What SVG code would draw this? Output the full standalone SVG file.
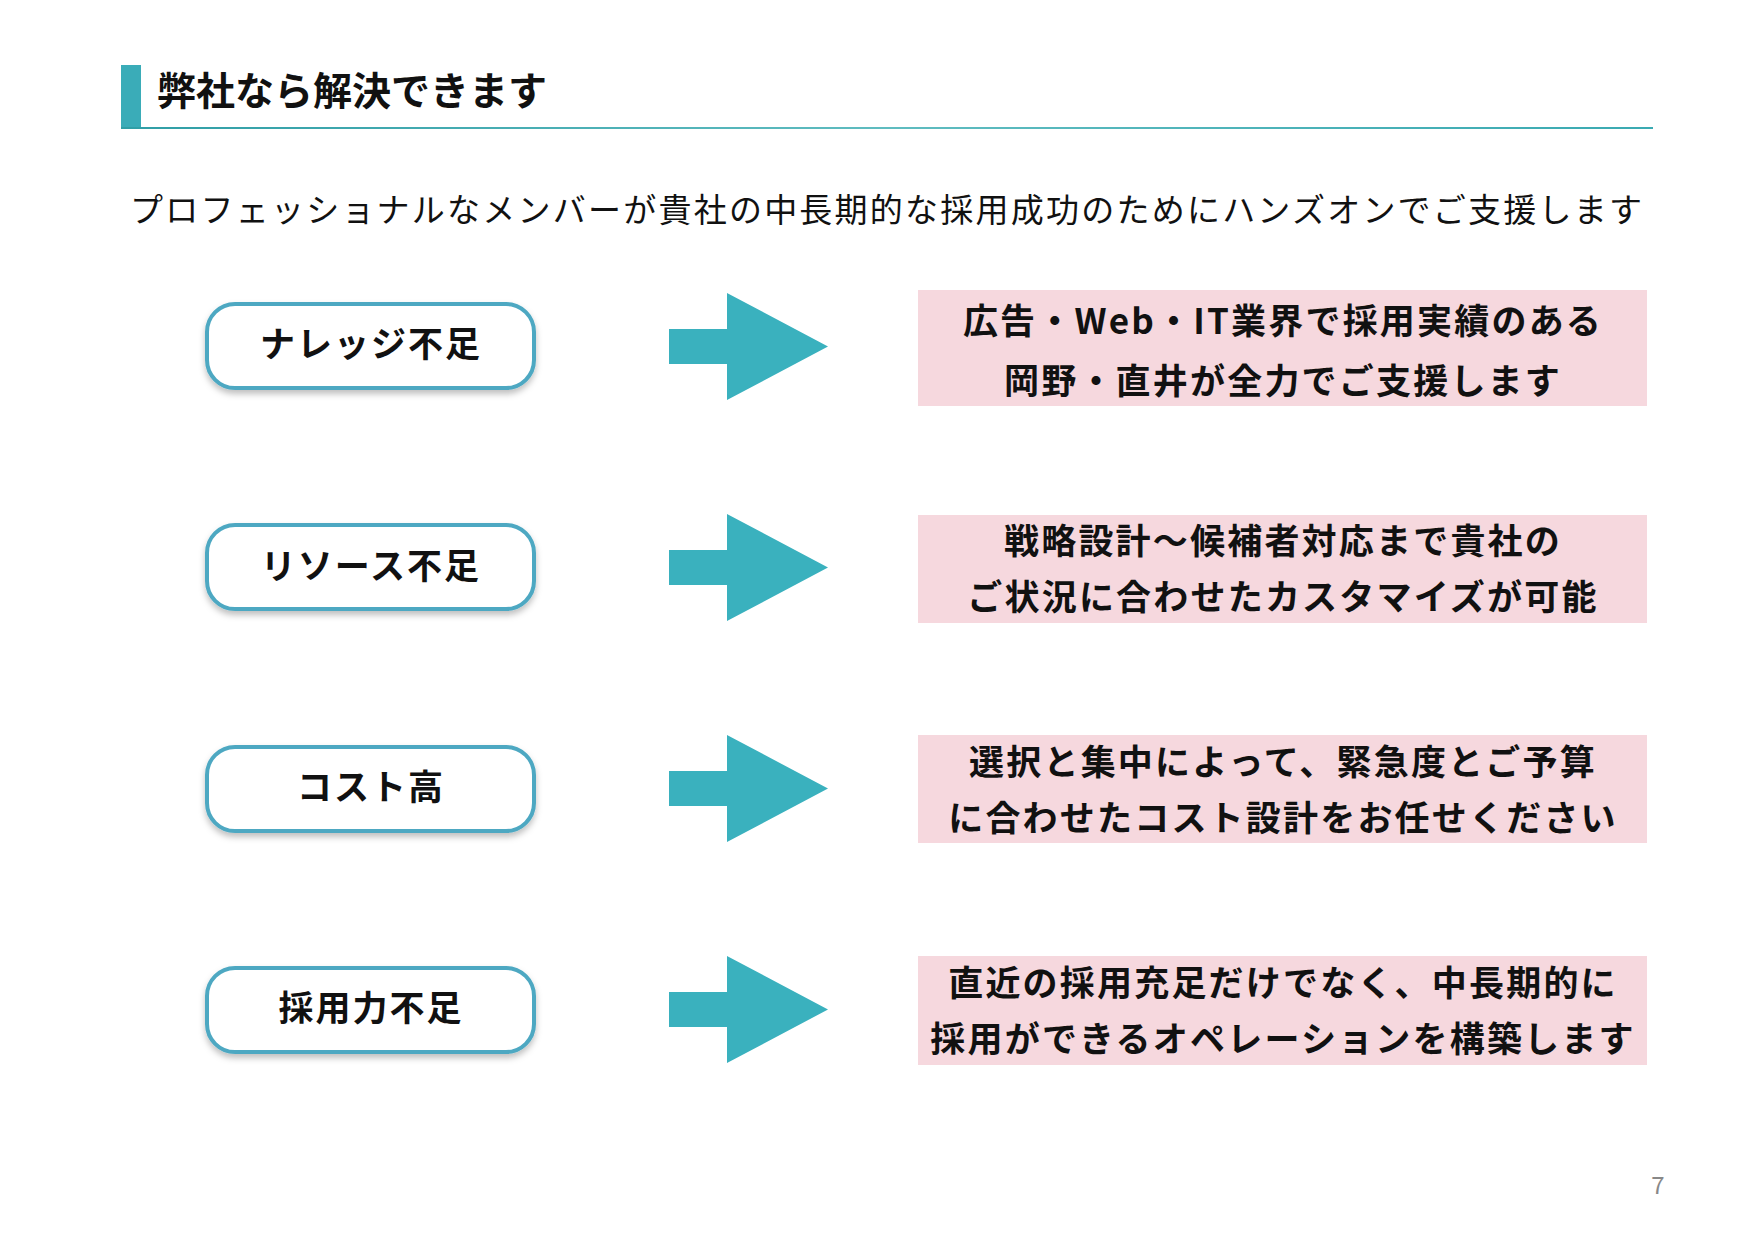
<svg xmlns="http://www.w3.org/2000/svg" width="1754" height="1240" viewBox="0 0 1754 1240">
  <defs>
    <filter id="sh" x="-10%" y="-20%" width="120%" height="150%">
      <feDropShadow dx="0" dy="4" stdDeviation="3" flood-color="#000" flood-opacity="0.25"/>
    </filter>
    <linearGradient id="ul" x1="0" x2="1" y1="0" y2="0">
      <stop offset="0" stop-color="#2f9ea6"/>
      <stop offset="0.5" stop-color="#5fbcc0"/>
      <stop offset="1" stop-color="#3aaab2"/>
    </linearGradient>
    <style>
      .jp{font-family:"Noto Sans CJK JP","Noto Sans",sans-serif;}
      .b{font-weight:700;fill:#111;}
      .lbl{font-size:35px;letter-spacing:2px;text-anchor:middle;}
      .box{fill:#fff;stroke:#4ea8c2;stroke-width:4;}
      .pink{fill:#f6d8de;}
      .arr{fill:#3ab1be;}
      .sol{font-size:35px;letter-spacing:2.2px;text-anchor:middle;}
    </style>
  </defs>
  <rect width="1754" height="1240" fill="#fff"/>

  <g id="header">
    <rect x="121" y="65" width="20" height="63" fill="#3aacb8"/>
    <rect x="121" y="127" width="1532" height="2" fill="url(#ul)"/>
    <text class="jp b" x="157" y="105" font-size="39">弊社なら解決できます</text>
    <text class="jp" x="130" y="222" font-size="33" fill="#111" textLength="1512" lengthAdjust="spacing">プロフェッショナルなメンバーが貴社の中長期的な採用成功のためにハンズオンでご支援します</text>
  </g>

  <g id="problem1"><rect class="box" x="207" y="304" width="327" height="84" rx="28" filter="url(#sh)"/><text class="jp b lbl" x="371" y="357">ナレッジ不足</text></g>
  <g id="problem2"><rect class="box" x="207" y="525" width="327" height="84" rx="28" filter="url(#sh)"/><text class="jp b lbl" x="371" y="579">リソース不足</text></g>
  <g id="problem3"><rect class="box" x="207" y="747" width="327" height="84" rx="28" filter="url(#sh)"/><text class="jp b lbl" x="371" y="800">コスト高</text></g>
  <g id="problem4"><rect class="box" x="207" y="968" width="327" height="84" rx="28" filter="url(#sh)"/><text class="jp b lbl" x="371" y="1021">採用力不足</text></g>

  <g id="connectors">
    <polygon class="arr" points="669,329 727,329 727,293 828,346.5 727,400 727,364 669,364"/>
    <polygon class="arr" points="669,550 727,550 727,514 828,567.5 727,621 727,585 669,585"/>
    <polygon class="arr" points="669,771 727,771 727,735 828,788.5 727,842 727,806 669,806"/>
    <polygon class="arr" points="669,992 727,992 727,956 828,1009.5 727,1063 727,1027 669,1027"/>
  </g>

  <g id="solution1"><rect class="pink" x="918" y="290" width="729" height="116"/>
    <text class="jp b sol" x="1283" y="334">広告・Web・IT業界で採用実績のある</text>
    <text class="jp b sol" x="1283" y="394">岡野・直井が全力でご支援します</text></g>
  <g id="solution2"><rect class="pink" x="918" y="515" width="729" height="108"/>
    <text class="jp b sol" x="1283" y="554">戦略設計〜候補者対応まで貴社の</text>
    <text class="jp b sol" x="1283" y="610">ご状況に合わせたカスタマイズが可能</text></g>
  <g id="solution3"><rect class="pink" x="918" y="735" width="729" height="108"/>
    <text class="jp b sol" x="1283" y="775">選択と集中によって、緊急度とご予算</text>
    <text class="jp b sol" x="1283" y="831">に合わせたコスト設計をお任せください</text></g>
  <g id="solution4"><rect class="pink" x="918" y="956" width="729" height="109"/>
    <text class="jp b sol" x="1283" y="996">直近の採用充足だけでなく、中長期的に</text>
    <text class="jp b sol" x="1283" y="1052">採用ができるオペレーションを構築します</text></g>

  <text class="jp" x="1658" y="1194" font-size="24" fill="#888" text-anchor="middle">7</text>
</svg>
